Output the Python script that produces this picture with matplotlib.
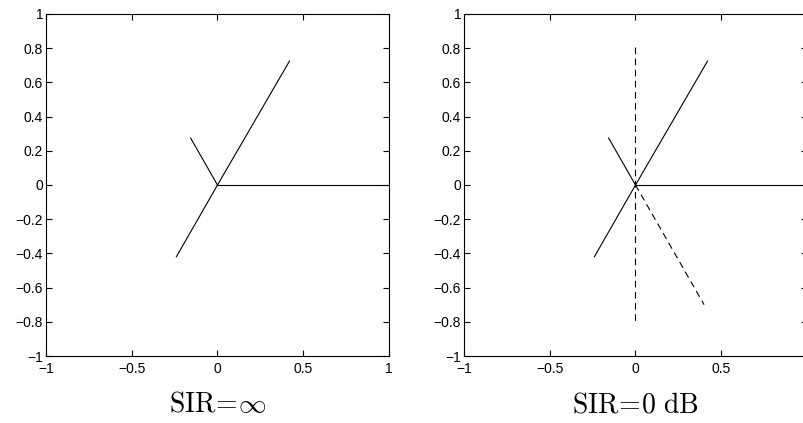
import matplotlib
matplotlib.use("Agg")
import matplotlib.pyplot as plt

plt.rcParams.update({
    "font.family": "Liberation Sans",
    "font.size": 10,
    "mathtext.fontset": "cm",
    "xtick.direction": "in",
    "ytick.direction": "in",
    "xtick.top": True,
    "ytick.right": True,
    "xtick.major.size": 4,
    "ytick.major.size": 4,
    "axes.linewidth": 0.8,
})

# solid vectors (endpoints from the origin)
solid_x = [1.0, 0.42, -0.24, -0.157]
solid_y = [0.0, 0.725, -0.42, 0.275]

# dashed vectors in the second panel: one through the origin, one from it
dash_v_x = [0.0, 0.0]
dash_v_y = [0.805, -0.805]
dash_d_x = [0.0, 0.40]
dash_d_y = [0.0, -0.70]

titles = [r"$\mathrm{SIR}\!=\!\infty$", r"$\mathrm{SIR}\!=\!0\ \mathrm{dB}$"]
xticks = [-1, -0.5, 0, 0.5, 1]
yticks = [-1, -0.8, -0.6, -0.4, -0.2, 0, 0.2, 0.4, 0.6, 0.8, 1]


def fmt(t):
    return ("\u2212" + f"{abs(t):g}") if t < 0 else f"{t:g}"


fig = plt.figure(figsize=(8.04, 4.23), dpi=100)
W = 343 / 804
ax1 = fig.add_axes([46 / 804, 1 - 356 / 423, W, 342 / 423])
ax2 = fig.add_axes([464 / 804, 1 - 356 / 423, W, 342 / 423])

for ax, title in zip([ax1, ax2], titles):
    for x, y in zip(solid_x, solid_y):
        ax.plot([0, x], [0, y], color="black", linewidth=0.8)
    ax.set_xlim(-1, 1)
    ax.set_ylim(-1, 1)
    ax.set_xticks(xticks)
    ax.set_xticklabels([fmt(t) for t in xticks])
    ax.set_yticks(yticks)
    ax.set_yticklabels([fmt(t) for t in yticks])
    ax.tick_params(axis="x", pad=4)
    ax.tick_params(axis="y", pad=2)
    ax.set_xlabel(title, fontsize=20, labelpad=12)

# the right panel runs past the figure edge, so its last x label is not seen
ax2.set_xticklabels([fmt(t) for t in xticks[:-1]] + [""])

ax2.plot(dash_v_x, dash_v_y, color="black", linewidth=0.8, linestyle=(0, (6, 4)))
ax2.plot(dash_d_x, dash_d_y, color="black", linewidth=0.8, linestyle=(0, (6, 4)))

fig.savefig("out.png", dpi=100)
